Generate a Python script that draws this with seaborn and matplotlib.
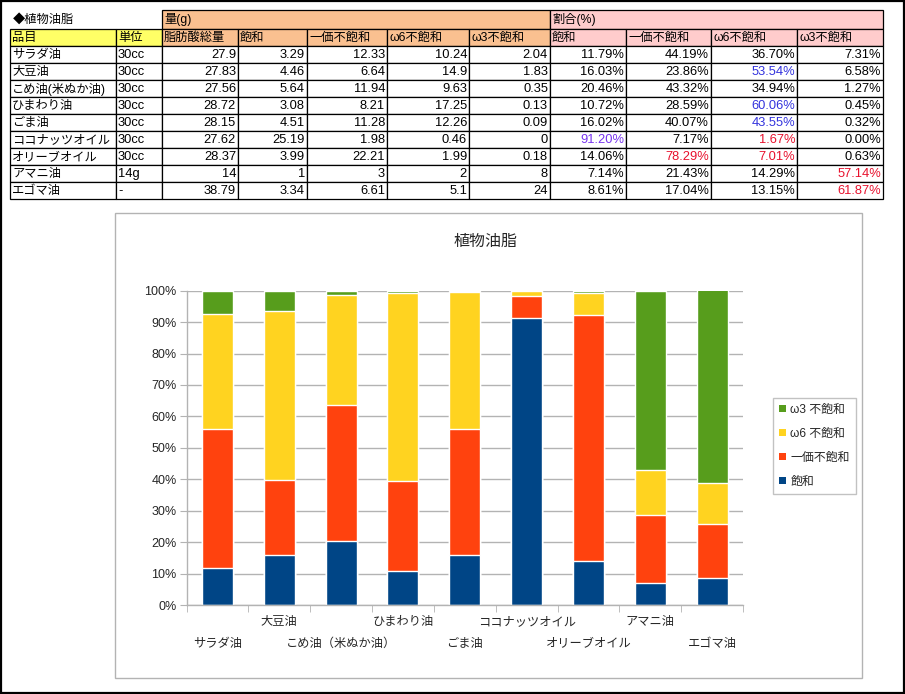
import numpy as np
import pandas as pd
import seaborn as sns
import matplotlib.pyplot as plt
from matplotlib.patches import Rectangle, Patch

# table data
oils = ['サラダ油', '大豆油', 'こめ油(米ぬか油)', 'ひまわり油', 'ごま油',
        'ココナッツオイル', 'オリーブオイル', 'アマニ油', 'エゴマ油']
chart_labels = ['サラダ油', '大豆油', 'こめ油（米ぬか油）', 'ひまわり油', 'ごま油',
                'ココナッツオイル', 'オリーブオイル', 'アマニ油', 'エゴマ油']
units = ['30cc', '30cc', '30cc', '30cc', '30cc', '30cc', '30cc', '14g', '-']
total = [27.9, 27.83, 27.56, 28.72, 28.15, 27.62, 28.37, 14, 38.79]
sat = [3.29, 4.46, 5.64, 3.08, 4.51, 25.19, 3.99, 1, 3.34]
mono = [12.33, 6.64, 11.94, 8.21, 11.28, 1.98, 22.21, 3, 6.61]
w6 = [10.24, 14.9, 9.63, 17.25, 12.26, 0.46, 1.99, 2, 5.1]
w3 = [2.04, 1.83, 0.35, 0.13, 0.09, 0, 0.18, 8, 24]
pct_sat = [11.79, 16.03, 20.46, 10.72, 16.02, 91.20, 14.06, 7.14, 8.61]
pct_mono = [44.19, 23.86, 43.32, 28.59, 40.07, 7.17, 78.29, 21.43, 17.04]
pct_w6 = [36.70, 53.54, 34.94, 60.06, 43.55, 1.67, 7.01, 14.29, 13.15]
pct_w3 = [7.31, 6.58, 1.27, 0.45, 0.32, 0.00, 0.63, 57.14, 61.87]

header_g = ['脂肪酸総量', '飽和', '一価不飽和', 'ω6不飽和', 'ω3不飽和']
header_p = ['飽和', '一価不飽和', 'ω6不飽和', 'ω3不飽和']
series_names = ['飽和', '一価不飽和', 'ω6 不飽和', 'ω3 不飽和']
series_colors = ['#004586', '#FF420E', '#FFD320', '#579D1C']

sns.set_style('white')
plt.rcParams['font.family'] = ['Liberation Sans', 'Noto Sans CJK JP', 'DejaVu Sans']

W, H = 905, 694
fig = plt.figure(figsize=(W / 100, H / 100), dpi=100)

# overlay axes in pixel coords for the spreadsheet part
tab = fig.add_axes([0, 0, 1, 1])
tab.set_xlim(0, W)
tab.set_ylim(H, 0)
tab.axis('off')

ORANGE = '#FAC090'
PINK = '#FFCCCC'
YELLOW = '#FFFF66'
BLUE = '#3333DD'
PURPLE = '#7733EE'
RED = '#E8112D'

xs = [10, 116, 162, 238, 307, 387, 469, 550, 626, 711, 797, 883]
row_h = 17
fs_jp = 8.8
fs_num = 9.3


def cell(x0, x1, y0, y1, fc='white'):
    tab.add_patch(Rectangle((x0, y0), x1 - x0, y1 - y0, facecolor=fc,
                            edgecolor='black', linewidth=0.9))


def txt(x, y, s, ha='left', color='black', fs=fs_jp):
    tab.text(x, y, s, ha=ha, va='center', fontsize=fs, color=color)


# row 0
txt(13, 19.5, '◆植物油脂')
cell(xs[2], xs[7], 10, 29, ORANGE)
cell(xs[7], xs[11], 10, 29, PINK)
txt(xs[2] + 2, 19.5, '量(g)')
txt(xs[7] + 2, 19.5, '割合(%)')

# row 1 headers
y0, y1 = 29, 46
cell(xs[0], xs[1], y0, y1, YELLOW)
cell(xs[1], xs[2], y0, y1, YELLOW)
txt(xs[0] + 2, 37.5, '品目')
txt(xs[1] + 2, 37.5, '単位')
for j, h in enumerate(header_g):
    cell(xs[2 + j], xs[3 + j], y0, y1, ORANGE)
    txt(xs[2 + j] + 2, 37.5, h)
for j, h in enumerate(header_p):
    cell(xs[7 + j], xs[8 + j], y0, y1, PINK)
    txt(xs[7 + j] + 2, 37.5, h)

text_colors = {(1, 9): BLUE, (3, 9): BLUE, (4, 9): BLUE,
               (5, 7): PURPLE, (5, 9): RED,
               (6, 8): RED, (6, 9): RED,
               (7, 10): RED, (8, 10): RED}

for i in range(len(oils)):
    top = 46 + row_h * i
    bot = top + row_h
    yc = top + row_h / 2 + 0.5
    vals = [total[i], sat[i], mono[i], w6[i], w3[i]]
    pcts = [pct_sat[i], pct_mono[i], pct_w6[i], pct_w3[i]]
    for j in range(11):
        cell(xs[j], xs[j + 1], top, bot)
    txt(xs[0] + 2, yc, oils[i])
    txt(xs[1] + 2, yc, units[i], fs=fs_num)
    for j, v in enumerate(vals):
        txt(xs[3 + j] - 2, yc, '{:g}'.format(v), ha='right', fs=fs_num)
    for j, p in enumerate(pcts):
        txt(xs[8 + j] - 2, yc, '{:.2f}%'.format(p), ha='right', fs=fs_num,
            color=text_colors.get((i, 7 + j), 'black'))

# chart frame and outer border
tab.add_patch(Rectangle((115, 213), 862 - 115, 678 - 213, facecolor='white',
                        edgecolor='#B3B3B3', linewidth=1))
tab.add_patch(Rectangle((0.8, 0.8), W - 1.6, H - 1.6, facecolor='none',
                        edgecolor='black', linewidth=1.6))
tab.text(486, 241, '植物油脂', ha='center', va='center', fontsize=11.5)

# chart
left, right, ytop, ybot = 186.5, 743, 290.7, 605
ax = fig.add_axes([left / W, 1 - ybot / H, (right - left) / W, (ybot - ytop) / H])

df = pd.DataFrame({'oil': chart_labels,
                   's0': np.array(pct_sat) / 100,
                   's1': np.array(pct_mono) / 100,
                   's2': np.array(pct_w6) / 100,
                   's3': np.array(pct_w3) / 100})
cols = ['s0', 's1', 's2', 's3']
cum = df[cols].cumsum(axis=1)
for k in range(3, -1, -1):
    sns.barplot(x=df['oil'], y=cum[cols[k]], color=series_colors[k], width=0.5,
                saturation=1, ax=ax, zorder=2)

ax.set_xlim(-0.5, len(oils) - 0.5)
ax.set_ylim(0, 1)
yt = np.arange(0, 1.01, 0.1)
ax.set_yticks(yt)
ax.set_yticklabels(['{:d}%'.format(int(round(v * 100))) for v in yt])
ax.set_xlabel('')
ax.set_ylabel('')
ax.yaxis.grid(True, color='#B3B3B3', linewidth=1)
ax.set_axisbelow(True)
for s in ['top', 'right']:
    ax.spines[s].set_visible(False)
for s in ['left', 'bottom']:
    ax.spines[s].set_color('#B3B3B3')
    ax.spines[s].set_linewidth(1)
ax.tick_params(axis='y', which='major', length=5, color='#B3B3B3', pad=2,
               labelsize=9, left=True)

# staggered category labels: odd ones on the main axis, even ones lower
pos = np.arange(len(oils))
ax.set_xticks(pos[1::2])
ax.set_xticklabels(chart_labels[1::2])
ax.set_xticks(np.arange(-0.5, len(oils)), minor=True)
ax.tick_params(axis='x', which='major', length=0, pad=8, labelsize=8.8)
ax.tick_params(axis='x', which='minor', length=5, color='#B3B3B3', bottom=True)

sec = ax.secondary_xaxis('bottom')
sec.set_xticks(pos[0::2])
sec.set_xticklabels(chart_labels[0::2])
sec.tick_params(axis='x', length=0, pad=23.5, labelsize=8.8)
sec.spines['bottom'].set_visible(False)

handles = [Patch(facecolor=series_colors[k], edgecolor='none', label=series_names[k])
           for k in range(3, -1, -1)]
leg = ax.legend(handles=handles, loc='center left',
                bbox_to_anchor=(773 / W, 1 - 446 / H), bbox_transform=fig.transFigure,
                fontsize=8.6, frameon=True, fancybox=False, edgecolor='#B3B3B3',
                handlelength=0.55, handleheight=0.55, handletextpad=0.4,
                labelspacing=1.0, borderpad=0.5, borderaxespad=0)
leg.get_frame().set_linewidth(1)

fig.savefig('out.png', dpi=100)
